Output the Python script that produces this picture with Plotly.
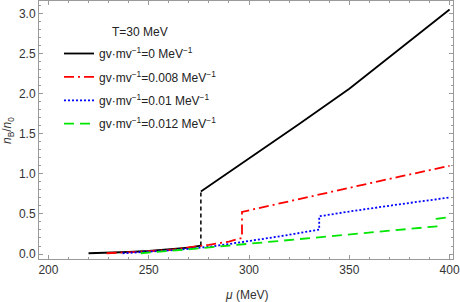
import plotly.graph_objects as go

# ---- data ----
black_mu_lo = [220, 230, 240, 250, 260, 270, 276]
black_n_lo = [0.01, 0.015, 0.025, 0.038, 0.055, 0.08, 0.105]
black_mu_hi = [276, 300, 325, 350, 375, 400]
black_n_hi = [0.78, 1.19, 1.62, 2.06, 2.55, 3.05]

red_mu = [229, 240, 250, 260, 270, 280, 290, 296.5, 296.5, 325, 350, 375, 400]
red_n = [0.01, 0.02, 0.035, 0.05, 0.08, 0.115, 0.155, 0.2, 0.525, 0.68, 0.825, 0.965, 1.1]

blue_mu = [237, 250, 260, 270, 280, 290, 300, 310, 320, 335, 335, 350, 375, 400]
blue_n = [0.01, 0.025, 0.045, 0.065, 0.09, 0.125, 0.16, 0.2, 0.24, 0.305, 0.47, 0.53, 0.62, 0.705]

green_mu = [246, 260, 275, 290, 310, 335, 360, 393.5, 393.5, 400]
green_n = [0.01, 0.035, 0.07, 0.105, 0.15, 0.215, 0.27, 0.345, 0.44, 0.46]

legend_names = [
    "gv·mv<sup>−1</sup>=0 MeV<sup>−1</sup>",
    "gv·mv<sup>−1</sup>=0.008 MeV<sup>−1</sup>",
    "gv·mv<sup>−1</sup>=0.01 MeV<sup>−1</sup>",
    "gv·mv<sup>−1</sup>=0.012 MeV<sup>−1</sup>",
]
x_ticks = [200, 250, 300, 350, 400]
y_ticks = [0.0, 0.5, 1.0, 1.5, 2.0, 2.5, 3.0]

FONT = "Liberation Sans, Arial, sans-serif"
LW = 1.8
L, R, T, B = 39, 7, 1, 43
W, H = 460, 302
PW, PH = W - L - R, H - T - B

fig = go.Figure()
fig.add_trace(go.Scatter(x=black_mu_lo, y=black_n_lo, mode="lines",
                         line=dict(color="black", width=LW), name=legend_names[0],
                         legendgroup="g0"))
fig.add_trace(go.Scatter(x=black_mu_hi, y=black_n_hi, mode="lines",
                         line=dict(color="black", width=LW), showlegend=False,
                         legendgroup="g0"))
fig.add_trace(go.Scatter(x=[black_mu_lo[-1], black_mu_hi[0]], y=[black_n_lo[-1], black_n_hi[0]],
                         mode="lines", line=dict(color="black", width=1.5, dash="4px,3px"),
                         showlegend=False, legendgroup="g0"))
fig.add_trace(go.Scatter(x=red_mu, y=red_n, mode="lines",
                         line=dict(color="#ff0000", width=LW, dash="10px,4px,2px,4px"),
                         name=legend_names[1], legendgroup="g1"))
fig.add_trace(go.Scatter(x=blue_mu, y=blue_n, mode="lines",
                         line=dict(color="#0000ff", width=LW, dash="2px,2px"),
                         name=legend_names[2], legendgroup="g2"))
fig.add_trace(go.Scatter(x=green_mu, y=green_n, mode="lines",
                         line=dict(color="#00e600", width=LW, dash="10px,6px"),
                         name=legend_names[3], legendgroup="g3"))

axis_common = dict(
    showline=True, linecolor="#9a9a9a", linewidth=1, mirror="allticks",
    ticks="inside", ticklen=4, tickcolor="#9a9a9a", tickwidth=1,
    showgrid=False, zeroline=False, automargin=False,
    tickfont=dict(family=FONT, size=12, color="#333333"),
)
fig.update_xaxes(range=[195.3, 401.7], tickvals=x_ticks,
                 minor=dict(dtick=10, ticks="inside", ticklen=2, tickcolor="#9a9a9a", showgrid=False),
                 **axis_common)
fig.update_yaxes(range=[-0.062, 3.155], tickvals=y_ticks, tickformat=".1f",
                 minor=dict(dtick=0.1, ticks="inside", ticklen=2, tickcolor="#9a9a9a", showgrid=False),
                 **axis_common)

def px(xp):
    return (xp - L) / PW

def py(yp):
    return 1 - (yp - T) / PH

ann = dict(xref="paper", yref="paper", showarrow=False, xanchor="center", yanchor="middle")
fig.add_annotation(x=px(247), y=py(295), text="<i>μ</i> (MeV)",
                   font=dict(family=FONT, size=12, color="#333333"), **ann)
fig.add_annotation(x=px(8), y=py(131), textangle=-90,
                   text="<i>n</i><sub>B</sub>/<i>n</i><sub>0</sub>",
                   font=dict(family=FONT, size=12, color="#333333"), **ann)
fig.add_annotation(x=px(140), y=py(32), text="T=30 MeV",
                   font=dict(family=FONT, size=12, color="#222222"), **ann)

fig.update_layout(
    width=W, height=H,
    margin=dict(l=L, r=R, t=T, b=B),
    paper_bgcolor="white", plot_bgcolor="white",
    font=dict(family=FONT, size=12, color="#222222"),
    legend=dict(x=px(59), y=py(39), xanchor="left", yanchor="top",
                bgcolor="rgba(0,0,0,0)", tracegroupgap=4.4,
                font=dict(family=FONT, size=12, color="#222222")),
)

fig.write_html("out.html", config={"displayModeBar": False},
               post_script="document.body.style.margin='0';")
